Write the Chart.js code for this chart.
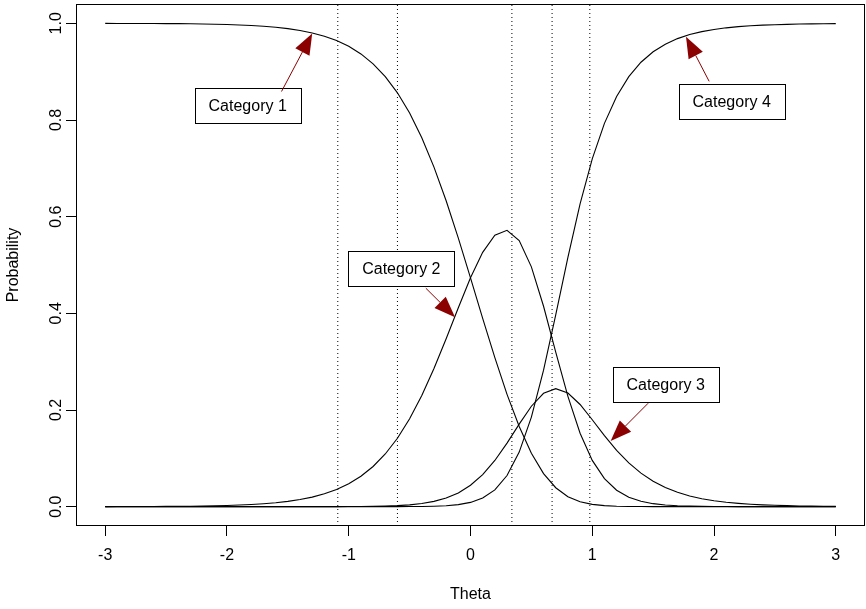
<!DOCTYPE html>
<html>
<head>
<meta charset="utf-8">
<script src="https://cdn.jsdelivr.net/npm/chart.js@4.4.1/dist/chart.umd.min.js"></script>
<style>
  html, body { margin: 0; padding: 0; background: #fff; }
  #wrap { width: 866px; height: 609px; }
</style>
</head>
<body>
<div id="wrap"><canvas id="chart" width="866" height="609"></canvas></div>
<script>
// ── Data ───────────────────────────────────────────────────────────────
const THETA = [
  -3.0, -2.9, -2.8, -2.7, -2.6, -2.5, -2.4, -2.3, -2.2, -2.1,
  -2.0, -1.9, -1.8, -1.7, -1.6, -1.5, -1.4, -1.3, -1.2, -1.1,
  -1.0, -0.9, -0.8, -0.7, -0.6, -0.5, -0.4, -0.3, -0.2, -0.1,
   0.0,  0.1,  0.2,  0.3,  0.4,  0.5,  0.6,  0.7,  0.8,  0.9,
   1.0,  1.1,  1.2,  1.3,  1.4,  1.5,  1.6,  1.7,  1.8,  1.9,
   2.0,  2.1,  2.2,  2.3,  2.4,  2.5,  2.6,  2.7,  2.8,  2.9, 3.0
];
const CAT1 = [
  0.9999, 0.9998, 0.9998, 0.9997, 0.9996, 0.9994, 0.9993, 0.9990, 0.9986, 0.9982,
  0.9975, 0.9967, 0.9955, 0.9939, 0.9918, 0.9890, 0.9852, 0.9801, 0.9733, 0.9643,
  0.9524, 0.9367, 0.9162, 0.8898, 0.8562, 0.8143, 0.7633, 0.7026, 0.6329, 0.5557,
  0.4735, 0.3897, 0.3082, 0.2324, 0.1658, 0.1107, 0.0685, 0.0392, 0.0207, 0.0102,
  0.0048, 0.0021, 0.0009, 0.0004, 0.0002, 0.0001, 0.0000, 0.0000, 0.0000, 0.0000,
  0.0000, 0.0000, 0.0000, 0.0000, 0.0000, 0.0000, 0.0000, 0.0000, 0.0000, 0.0000, 0.0000
];
const CAT2 = [
  0.0001, 0.0002, 0.0002, 0.0003, 0.0004, 0.0006, 0.0007, 0.0010, 0.0014, 0.0018,
  0.0025, 0.0033, 0.0045, 0.0061, 0.0082, 0.0110, 0.0148, 0.0198, 0.0266, 0.0356,
  0.0474, 0.0629, 0.0831, 0.1090, 0.1415, 0.1817, 0.2299, 0.2857, 0.3473, 0.4116,
  0.4735, 0.5261, 0.5615, 0.5717, 0.5505, 0.4961, 0.4146, 0.3198, 0.2282, 0.1520,
  0.0958, 0.0580, 0.0340, 0.0196, 0.0111, 0.0062, 0.0035, 0.0019, 0.0011, 0.0006,
  0.0003, 0.0002, 0.0001, 0.0001, 0.0000, 0.0000, 0.0000, 0.0000, 0.0000, 0.0000, 0.0000
];
const CAT3 = [
  0.0000, 0.0000, 0.0000, 0.0000, 0.0000, 0.0000, 0.0000, 0.0000, 0.0000, 0.0000,
  0.0000, 0.0000, 0.0000, 0.0000, 0.0000, 0.0000, 0.0000, 0.0000, 0.0001, 0.0001,
  0.0002, 0.0004, 0.0007, 0.0012, 0.0022, 0.0038, 0.0065, 0.0109, 0.0178, 0.0285,
  0.0443, 0.0664, 0.0956, 0.1315, 0.1708, 0.2078, 0.2345, 0.2441, 0.2351, 0.2114,
  0.1799, 0.1469, 0.1165, 0.0905, 0.0693, 0.0525, 0.0396, 0.0297, 0.0222, 0.0165,
  0.0123, 0.0091, 0.0068, 0.0050, 0.0037, 0.0028, 0.0021, 0.0015, 0.0011, 0.0008, 0.0006
];
const CAT4 = [
  0.0000, 0.0000, 0.0000, 0.0000, 0.0000, 0.0000, 0.0000, 0.0000, 0.0000, 0.0000,
  0.0000, 0.0000, 0.0000, 0.0000, 0.0000, 0.0000, 0.0000, 0.0000, 0.0000, 0.0000,
  0.0000, 0.0000, 0.0000, 0.0000, 0.0001, 0.0002, 0.0004, 0.0009, 0.0019, 0.0042,
  0.0088, 0.0178, 0.0347, 0.0644, 0.1129, 0.1854, 0.2824, 0.3969, 0.5160, 0.6263,
  0.7195, 0.7930, 0.8486, 0.8896, 0.9195, 0.9412, 0.9569, 0.9684, 0.9768, 0.9829,
  0.9874, 0.9907, 0.9931, 0.9949, 0.9962, 0.9972, 0.9979, 0.9985, 0.9989, 0.9992, 0.9994
];

const X_TICKS = [-3, -2, -1, 0, 1, 2, 3];
const Y_TICKS = [0, 0.2, 0.4, 0.6, 0.8, 1.0];
const CUTS    = [-1.09, -0.6, 0.34, 0.67, 0.98];

// labels: text, box centre, arrow start, arrow tip (data units)
const LABELS     = ['Category 1', 'Category 2', 'Category 3', 'Category 4'];
const LABEL_AT   = [[-1.83, 0.830], [-0.568, 0.492], [1.603, 0.253], [2.145, 0.838]];
const ARROW_FROM = [[-1.552, 0.859], [-0.367, 0.452], [1.459, 0.214], [1.960, 0.880]];
const ARROW_TO   = [[-1.300, 0.979], [-0.127, 0.392], [1.151, 0.136], [1.770, 0.972]];

// ── Helpers ────────────────────────────────────────────────────────────
const FONT = '"Liberation Sans", Arial, Helvetica, sans-serif';
const pts = ys => THETA.map((x, i) => ({ x, y: ys[i] }));

const curve = ys => ({
  data: pts(ys), borderColor: '#000', borderWidth: 1.1,
  pointRadius: 0, tension: 0, fill: false
});
const cutLine = c => ({
  data: [{ x: c, y: -0.04 }, { x: c, y: 1.04 }],
  borderColor: '#000', borderWidth: 1, borderDash: [1, 3],
  pointRadius: 0, fill: false
});

// ── R-style frame, y labels and annotations ────────────────────────────
const rFrame = {
  id: 'rFrame',
  afterDraw(chart) {
    const { ctx, chartArea: a, scales: { x, y } } = chart;
    ctx.save();

    // box
    ctx.strokeStyle = '#000';
    ctx.lineWidth = 1;
    ctx.strokeRect(Math.round(a.left) + 0.5, Math.round(a.top) + 0.5,
                   Math.round(a.right - a.left) - 1, Math.round(a.bottom - a.top) - 1);

    // y tick labels, parallel to the axis
    ctx.fillStyle = '#000';
    ctx.font = '16px ' + FONT;
    ctx.textAlign = 'center';
    ctx.textBaseline = 'middle';
    Y_TICKS.forEach(v => {
      ctx.save();
      ctx.translate(57, y.getPixelForValue(v));
      ctx.rotate(-Math.PI / 2);
      ctx.fillText(v.toFixed(1), 0, 0);
      ctx.restore();
    });

    // label boxes
    LABELS.forEach((txt, i) => {
      const cx = x.getPixelForValue(LABEL_AT[i][0]);
      const cy = y.getPixelForValue(LABEL_AT[i][1]);
      const w = Math.round(ctx.measureText(txt).width + 28);
      const h = 35;
      const l = Math.round(cx - w / 2) + 0.5, t = Math.round(cy - h / 2) + 0.5;
      ctx.fillStyle = '#fff';
      ctx.fillRect(l, t, w, h);
      ctx.strokeStyle = '#000';
      ctx.strokeRect(l, t, w, h);
      ctx.fillStyle = '#000';
      ctx.fillText(txt, cx, cy + 1);
    });

    // arrows
    ctx.strokeStyle = '#8b0000';
    ctx.fillStyle = '#8b0000';
    ARROW_TO.forEach((to, i) => {
      const x0 = x.getPixelForValue(ARROW_FROM[i][0]), y0 = y.getPixelForValue(ARROW_FROM[i][1]);
      const x1 = x.getPixelForValue(to[0]), y1 = y.getPixelForValue(to[1]);
      const ang = Math.atan2(y1 - y0, x1 - x0);
      const len = 21, half = 8;
      const bx = x1 - len * Math.cos(ang), by = y1 - len * Math.sin(ang);
      ctx.beginPath();
      ctx.moveTo(x0, y0);
      ctx.lineTo(bx, by);
      ctx.stroke();
      ctx.beginPath();
      ctx.moveTo(x1, y1);
      ctx.lineTo(bx + half * Math.sin(ang), by - half * Math.cos(ang));
      ctx.lineTo(bx - half * Math.sin(ang), by + half * Math.cos(ang));
      ctx.closePath();
      ctx.fill();
    });

    ctx.restore();
  }
};

// ── Chart ──────────────────────────────────────────────────────────────
new Chart(document.getElementById('chart').getContext('2d'), {
  type: 'line',
  data: {
    datasets: [curve(CAT1), curve(CAT2), curve(CAT3), curve(CAT4), ...CUTS.map(cutLine)]
  },
  options: {
    responsive: false,
    animation: false,
    devicePixelRatio: 1,
    layout: { padding: { top: 4, right: 1, left: 0, bottom: 0 } },
    plugins: { legend: { display: false }, tooltip: { enabled: false } },
    scales: {
      x: {
        type: 'linear', min: -3.24, max: 3.24,
        afterBuildTicks: s => { s.ticks = X_TICKS.map(v => ({ value: v })); },
        afterFit: s => { s.height = 83; },
        border: { display: false },
        grid: { drawOnChartArea: false, drawTicks: true, tickLength: 10, color: '#000' },
        ticks: {
          color: '#000', font: { family: FONT, size: 16 }, padding: 10,
          maxRotation: 0, autoSkip: false, callback: v => String(v)
        },
        title: {
          display: true, text: 'Theta', color: '#000',
          font: { family: FONT, size: 16 }, padding: { top: 0, bottom: 5 }
        }
      },
      y: {
        type: 'linear', min: -0.04, max: 1.04,
        afterBuildTicks: s => { s.ticks = Y_TICKS.map(v => ({ value: v })); },
        afterFit: s => { s.width = 76; },
        border: { display: false },
        grid: { drawOnChartArea: false, drawTicks: true, tickLength: 10, color: '#000' },
        ticks: { display: false },
        title: {
          display: true, text: 'Probability', color: '#000',
          font: { family: FONT, size: 16 }, padding: { top: 4, bottom: 0 }
        }
      }
    }
  },
  plugins: [rFrame]
});
</script>
</body>
</html>
